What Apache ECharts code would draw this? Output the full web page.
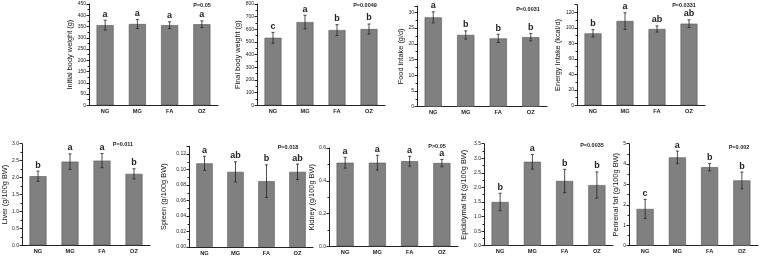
<!DOCTYPE html>
<html>
<head>
<meta charset="utf-8">
<script src="https://cdn.jsdelivr.net/npm/echarts@6/dist/echarts.min.js"></script>
<style>
html,body{margin:0;padding:0;background:#fff}
#chart{width:760px;height:256px}
</style>
</head>
<body>
<div id="chart"></div>
<script>
var groups = ["NG", "MG", "FA", "OZ"];

var initialBW = [356, 361, 356, 360], initialSD = [22, 20, 15, 15], initialLet = ["a", "a", "a", "a"];
var finalBW = [533, 657, 594, 602], finalSD = [43, 54, 43, 40], finalLet = ["c", "a", "b", "b"];
var foodIntake = [28.4, 22.8, 21.7, 22.1], foodSD = [1.75, 1.3, 1.3, 1.2], foodLet = ["a", "b", "b", "b"];
var energyIntake = [92.9, 108.8, 98.5, 105.4], energySD = [4.7, 10.7, 4, 5], energyLet = ["b", "a", "ab", "ab"];
var liver = [2.04, 2.47, 2.5, 2.11], liverSD = [0.15, 0.23, 0.21, 0.15], liverLet = ["b", "a", "a", "b"];
var spleen = [0.108, 0.097, 0.085, 0.097], spleenSD = [0.009, 0.013, 0.021, 0.01], spleenLet = ["a", "ab", "b", "ab"];
var kidney = [0.51, 0.51, 0.519, 0.508], kidneySD = [0.033, 0.045, 0.03, 0.022], kidneyLet = ["a", "a", "a", "a"];
var epiFat = [1.5, 2.88, 2.22, 2.08], epiSD = [0.3, 0.25, 0.4, 0.45], epiLet = ["b", "a", "b", "b"];
var periFat = [1.8, 4.33, 3.85, 3.2], periSD = [0.47, 0.31, 0.18, 0.41], periLet = ["c", "a", "b", "b"];

var yNames = ["Initial body weight (g)", "Final body weight (g)", "Food intake (g/d)", "Energy Intake (kcal/d)",
	"Liver (g/100g BW)", "Spleen (g/100g BW)", "Kidney (g/100g BW)", "Epididymal fat (g/100g BW)", "Perirenal fat (g/100g BW)"];
var pTexts = ["P=0.05", "P=0.0049", "P=0.0031", "P=0.0331", "P=0.011", "P=0.018", "P>0.05", "P=0.0035", "P=0.002"];

var panels = [
	{v: initialBW, sd: initialSD, l: initialLet, max: 450, step: 50, dec: 0, box: [89, 4, 129, 101.3], p: [202, 5], gap: 11},
	{v: finalBW, sd: finalSD, l: finalLet, max: 800, step: 100, dec: 0, box: [257, 4, 128, 101.3], p: [365, 5], gap: 14},
	{v: foodIntake, sd: foodSD, l: foodLet, max: 32, step: 5, dec: 0, box: [417, 6, 130, 100.7], p: [528, 9.5], gap: 11},
	{v: energyIntake, sd: energySD, l: energyLet, max: 130, step: 20, dec: 0, box: [577, 4.6, 128, 100.7], p: [684, 5.5], gap: 13},
	{v: liver, sd: liverSD, l: liverLet, max: 3, step: 0.5, dec: 1, box: [22, 143.7, 128, 101.6], p: [123, 144.5], gap: 10},
	{v: spleen, sd: spleenSD, l: spleenLet, max: 0.13, step: 0.02, dec: 2, box: [189, 146.3, 124, 100.7], p: [288, 147], gap: 22},
	{v: kidney, sd: kidneySD, l: kidneyLet, max: 0.6, step: 0.2, dec: 1, box: [329, 148, 129, 98.3], p: [437, 146], gap: 12},
	{v: epiFat, sd: epiSD, l: epiLet, max: 3.5, step: 0.5, dec: 1, box: [484, 143.7, 129, 102], p: [592, 145], gap: 17},
	{v: periFat, sd: periSD, l: periLet, max: 5, step: 1, dec: 0, box: [629, 143.7, 129, 102], p: [739, 147], gap: 8}
];

var FONT = "Liberation Sans";
var grid = [], xAxis = [], yAxis = [], series = [], graphic = [];

panels.forEach(function(pn, i) {
	var b = pn.box;
	grid.push({left: b[0], top: b[1], width: b[2], height: b[3]});
	xAxis.push({
		type: "category", gridIndex: i, data: groups,
		axisLine: {lineStyle: {color: "#222", width: 1}},
		axisTick: {show: false},
		axisLabel: {fontFamily: FONT, fontWeight: "bold", fontSize: 5.7, color: "#222", margin: 3}
	});
	yAxis.push({
		type: "value", gridIndex: i, min: 0, max: pn.max, interval: pn.step,
		name: yNames[i], nameLocation: "middle", nameGap: pn.gap, nameRotate: 90,
		nameTextStyle: {fontFamily: FONT, fontSize: 7.4, color: "#111"},
		axisLine: {show: true, lineStyle: {color: "#222", width: 1}},
		axisTick: {show: true, length: 2.5, lineStyle: {color: "#222"}},
		minorTick: {show: true, splitNumber: 2, length: 1.5, lineStyle: {color: "#222"}},
		splitLine: {show: false},
		axisLabel: {
			fontFamily: FONT, fontSize: 5, color: "#222", margin: 3, showMaxLabel: (pn.max % pn.step) < 1e-9 || Math.abs(pn.max % pn.step - pn.step) < 1e-9,
			formatter: function(val) { return val.toFixed(pn.dec); }
		}
	});
	series.push({
		type: "bar", xAxisIndex: i, yAxisIndex: i, data: pn.v, barWidth: "53%",
		itemStyle: {color: "#808080", borderColor: "#555", borderWidth: 0.6},
		silent: true
	});
	series.push({
		type: "custom", xAxisIndex: i, yAxisIndex: i, silent: true, z: 5,
		data: pn.v.map(function(v, k) { return [k, v - pn.sd[k], v + pn.sd[k]]; }),
		renderItem: function(params, api) {
			var lo = api.coord([api.value(0), api.value(1)]);
			var hi = api.coord([api.value(0), api.value(2)]);
			var x = lo[0], c = 1.5;
			return {
				type: "group",
				children: [
					{type: "line", shape: {x1: x, y1: lo[1], x2: x, y2: hi[1]}, style: {stroke: "#222", lineWidth: 0.8}},
					{type: "line", shape: {x1: x - c, y1: hi[1], x2: x + c, y2: hi[1]}, style: {stroke: "#222", lineWidth: 0.8}},
					{type: "line", shape: {x1: x - c, y1: lo[1], x2: x + c, y2: lo[1]}, style: {stroke: "#222", lineWidth: 0.8}},
					{type: "text", style: {text: pn.l[params.dataIndex], x: x, y: hi[1] - 1.5, align: "center", verticalAlign: "bottom",
						font: "bold 9px " + FONT, fill: "#222"}}
				]
			};
		}
	});
	graphic.push({
		type: "text", x: pn.p[0], y: pn.p[1], silent: true,
		style: {text: pTexts[i], font: "bold 5.5px " + FONT, fill: "#222", align: "center", verticalAlign: "middle"}
	});
});

var myChart = echarts.init(document.getElementById("chart"), null, {renderer: "canvas"});
myChart.setOption({
	animation: false,
	grid: grid, xAxis: xAxis, yAxis: yAxis, series: series, graphic: graphic
});
</script>
</body>
</html>
